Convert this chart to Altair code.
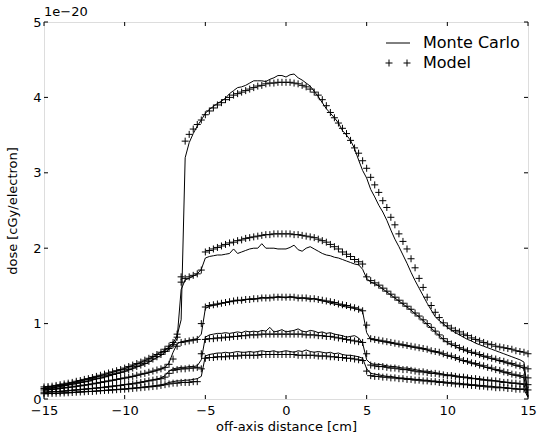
import altair as alt
import pandas as pd

# sampling grid of the profiles, 0.25 cm
X = [i / 4 for i in range(-60, 61)]
X_TICKS = [-15, -10, -5, 0, 5, 10, 15]
Y_TICKS = [0, 1, 2, 3, 4, 5]

# ---- Model (values in units of 1e-20 cGy/electron), one row per cm ----
A_MODEL = [0.16, 0.165, 0.17, 0.18, 0.19, 0.20, 0.21, 0.22, 0.235, 0.245, 0.26, 0.27,
           0.285, 0.30, 0.315, 0.33, 0.345, 0.36, 0.375, 0.39, 0.41, 0.43, 0.45, 0.47,
           0.49, 0.515, 0.54, 0.565, 0.59, 0.62, 0.66, 0.70, 0.75, 0.86, 1.62, 3.42,
           3.51, 3.58, 3.64, 3.70, 3.77, 3.82, 3.86, 3.90, 3.93, 3.97, 4.00, 4.03,
           4.05, 4.07, 4.09, 4.11, 4.13, 4.15, 4.16, 4.18, 4.19, 4.19, 4.20, 4.20,
           4.20, 4.20, 4.19, 4.18, 4.16, 4.14, 4.11, 4.07, 4.03, 3.97, 3.89, 3.80,
           3.73, 3.66, 3.59, 3.52, 3.43, 3.33, 3.26, 3.16, 3.06, 2.94, 2.84, 2.74,
           2.63, 2.54, 2.41, 2.31, 2.19, 2.09, 1.99, 1.86, 1.74, 1.60, 1.48, 1.35,
           1.24, 1.15, 1.08, 1.01, 0.97, 0.94, 0.91, 0.89, 0.86, 0.84, 0.81, 0.79,
           0.77, 0.75, 0.73, 0.72, 0.70, 0.69, 0.68, 0.67, 0.66, 0.64, 0.63, 0.62,
           0.60]
B_MODEL = [0.14, 0.145, 0.15, 0.16, 0.17, 0.18, 0.19, 0.20, 0.21, 0.22, 0.23, 0.24,
           0.26, 0.27, 0.28, 0.295, 0.31, 0.325, 0.34, 0.355, 0.37, 0.39, 0.41, 0.43,
           0.45, 0.47, 0.50, 0.53, 0.56, 0.59, 0.63, 0.67, 0.72, 0.82, 1.55, 1.60,
           1.62, 1.64, 1.66, 1.71, 1.95, 1.97, 1.99, 2.01, 2.03, 2.05, 2.07, 2.08,
           2.10, 2.11, 2.13, 2.14, 2.15, 2.16, 2.17, 2.18, 2.18, 2.19, 2.19, 2.19,
           2.19, 2.19, 2.18, 2.18, 2.17, 2.16, 2.15, 2.14, 2.12, 2.10, 2.08, 2.05,
           2.02, 1.99, 1.95, 1.92, 1.89, 1.85, 1.82, 1.79, 1.62, 1.57, 1.54, 1.51,
           1.47, 1.43, 1.39, 1.35, 1.31, 1.27, 1.23, 1.19, 1.14, 1.10, 1.05, 1.00,
           0.95, 0.90, 0.85, 0.80, 0.76, 0.73, 0.71, 0.68, 0.66, 0.64, 0.62, 0.61,
           0.59, 0.57, 0.56, 0.54, 0.53, 0.51, 0.50, 0.48, 0.47, 0.45, 0.44, 0.42,
           0.40]
C_MODEL = [0.12, 0.125, 0.13, 0.135, 0.14, 0.15, 0.155, 0.16, 0.17, 0.175, 0.185, 0.19,
           0.20, 0.21, 0.22, 0.23, 0.24, 0.25, 0.26, 0.27, 0.28, 0.29, 0.30, 0.315,
           0.33, 0.34, 0.355, 0.37, 0.385, 0.40, 0.42, 0.46, 0.53, 0.70, 0.75, 0.76,
           0.77, 0.78, 0.79, 1.00, 1.22, 1.24, 1.25, 1.26, 1.27, 1.28, 1.29, 1.30,
           1.31, 1.31, 1.32, 1.32, 1.33, 1.33, 1.34, 1.34, 1.34, 1.35, 1.35, 1.35,
           1.35, 1.35, 1.35, 1.34, 1.34, 1.34, 1.33, 1.33, 1.32, 1.31, 1.30, 1.29,
           1.28, 1.26, 1.25, 1.24, 1.22, 1.21, 1.19, 1.17, 0.98, 0.80, 0.79, 0.78,
           0.77, 0.76, 0.75, 0.74, 0.73, 0.72, 0.71, 0.70, 0.69, 0.68, 0.67, 0.66,
           0.64, 0.63, 0.62, 0.60, 0.58, 0.57, 0.55, 0.53, 0.51, 0.50, 0.48, 0.47,
           0.45, 0.44, 0.42, 0.41, 0.39, 0.38, 0.36, 0.35, 0.33, 0.32, 0.31, 0.29,
           0.28]
D_MODEL = [0.09, 0.093, 0.096, 0.10, 0.10, 0.105, 0.11, 0.115, 0.12, 0.125, 0.13, 0.135,
           0.14, 0.145, 0.15, 0.155, 0.16, 0.17, 0.175, 0.18, 0.19, 0.195, 0.20, 0.21,
           0.22, 0.23, 0.24, 0.25, 0.26, 0.27, 0.29, 0.34, 0.38, 0.39, 0.40, 0.40,
           0.41, 0.41, 0.42, 0.60, 0.79, 0.80, 0.80, 0.81, 0.81, 0.82, 0.82, 0.83,
           0.83, 0.84, 0.84, 0.85, 0.85, 0.85, 0.86, 0.86, 0.86, 0.86, 0.86, 0.86,
           0.86, 0.86, 0.86, 0.86, 0.86, 0.85, 0.85, 0.85, 0.84, 0.84, 0.83, 0.83,
           0.82, 0.81, 0.80, 0.79, 0.78, 0.77, 0.76, 0.75, 0.60, 0.45, 0.44, 0.43,
           0.43, 0.42, 0.41, 0.41, 0.40, 0.39, 0.39, 0.38, 0.37, 0.36, 0.36, 0.35,
           0.34, 0.34, 0.33, 0.32, 0.31, 0.31, 0.30, 0.29, 0.29, 0.28, 0.27, 0.27,
           0.26, 0.25, 0.25, 0.24, 0.24, 0.23, 0.22, 0.22, 0.21, 0.21, 0.20, 0.20,
           0.19]
E_MODEL = [0.07, 0.072, 0.074, 0.076, 0.078, 0.08, 0.083, 0.086, 0.09, 0.093, 0.096, 0.10,
           0.10, 0.105, 0.11, 0.113, 0.116, 0.12, 0.124, 0.128, 0.13, 0.135, 0.14, 0.145,
           0.15, 0.155, 0.16, 0.165, 0.17, 0.18, 0.19, 0.20, 0.21, 0.21, 0.22, 0.22,
           0.22, 0.23, 0.23, 0.40, 0.54, 0.55, 0.55, 0.56, 0.56, 0.56, 0.57, 0.57,
           0.57, 0.58, 0.58, 0.58, 0.58, 0.58, 0.59, 0.59, 0.59, 0.59, 0.59, 0.59,
           0.59, 0.59, 0.59, 0.58, 0.58, 0.58, 0.58, 0.58, 0.57, 0.57, 0.57, 0.56,
           0.56, 0.55, 0.55, 0.54, 0.54, 0.53, 0.52, 0.51, 0.37, 0.31, 0.30, 0.30,
           0.29, 0.29, 0.28, 0.28, 0.27, 0.27, 0.26, 0.26, 0.25, 0.25, 0.24, 0.24,
           0.23, 0.23, 0.22, 0.22, 0.21, 0.21, 0.20, 0.20, 0.19, 0.19, 0.18, 0.18,
           0.17, 0.17, 0.16, 0.16, 0.15, 0.15, 0.15, 0.14, 0.14, 0.13, 0.13, 0.13,
           0.12]

# ---- Monte Carlo ----
A_MC = [0.15, 0.16, 0.17, 0.175, 0.185, 0.195, 0.205, 0.215, 0.23, 0.24, 0.255, 0.265,
        0.28, 0.295, 0.31, 0.325, 0.34, 0.355, 0.37, 0.39, 0.405, 0.425, 0.445, 0.465,
        0.485, 0.51, 0.535, 0.56, 0.59, 0.62, 0.65, 0.69, 0.74, 0.84, 1.05, 3.20,
        3.40, 3.52, 3.62, 3.70, 3.79, 3.84, 3.88, 3.92, 3.95, 3.99, 4.05, 4.09,
        4.13, 4.14, 4.16, 4.19, 4.22, 4.22, 4.22, 4.21, 4.24, 4.26, 4.29, 4.29,
        4.27, 4.30, 4.31, 4.26, 4.23, 4.19, 4.15, 4.08, 4.01, 3.93, 3.85, 3.79,
        3.73, 3.66, 3.56, 3.50, 3.43, 3.32, 3.17, 3.03, 2.93, 2.78, 2.68, 2.57,
        2.48, 2.37, 2.24, 2.12, 2.02, 1.91, 1.80, 1.68, 1.57, 1.47, 1.37, 1.27,
        1.18, 1.09, 1.04, 1.00, 0.95, 0.91, 0.88, 0.85, 0.82, 0.79, 0.77, 0.74,
        0.72, 0.70, 0.68, 0.66, 0.64, 0.62, 0.60, 0.58, 0.56, 0.54, 0.52, 0.49,
        0.05]
B_MC = [0.135, 0.14, 0.145, 0.155, 0.165, 0.175, 0.185, 0.195, 0.205, 0.215, 0.225, 0.235,
        0.25, 0.265, 0.275, 0.29, 0.305, 0.32, 0.335, 0.35, 0.365, 0.385, 0.405, 0.425,
        0.445, 0.465, 0.49, 0.52, 0.55, 0.58, 0.62, 0.66, 0.71, 0.80, 1.45, 1.58,
        1.60, 1.63, 1.66, 1.72, 1.87, 1.89, 1.90, 1.91, 1.91, 1.92, 1.93, 1.99,
        1.93, 1.95, 1.97, 1.99, 2.00, 2.00, 2.06, 2.00, 2.00, 2.00, 1.99, 1.99,
        1.99, 2.01, 2.04, 1.98, 1.96, 2.00, 2.02, 1.99, 1.96, 1.93, 1.91, 1.90,
        1.88, 1.87, 1.85, 1.83, 1.81, 1.79, 1.78, 1.72, 1.60, 1.55, 1.53, 1.50,
        1.46, 1.42, 1.38, 1.34, 1.30, 1.26, 1.22, 1.18, 1.13, 1.09, 1.04, 0.99,
        0.94, 0.89, 0.84, 0.79, 0.75, 0.72, 0.70, 0.67, 0.65, 0.63, 0.61, 0.60,
        0.58, 0.56, 0.55, 0.53, 0.52, 0.50, 0.49, 0.47, 0.46, 0.44, 0.43, 0.40,
        0.04]
C_MC = [0.115, 0.12, 0.125, 0.13, 0.14, 0.145, 0.15, 0.16, 0.165, 0.175, 0.18, 0.19,
        0.20, 0.21, 0.215, 0.225, 0.235, 0.245, 0.255, 0.265, 0.275, 0.285, 0.30, 0.31,
        0.325, 0.335, 0.35, 0.365, 0.38, 0.395, 0.42, 0.48, 0.62, 0.73, 0.76, 0.77,
        0.78, 0.79, 0.80, 0.86, 1.20, 1.23, 1.24, 1.25, 1.27, 1.28, 1.29, 1.30,
        1.31, 1.30, 1.32, 1.33, 1.32, 1.33, 1.35, 1.34, 1.35, 1.34, 1.36, 1.35,
        1.34, 1.36, 1.35, 1.33, 1.34, 1.33, 1.32, 1.33, 1.31, 1.30, 1.29, 1.27,
        1.26, 1.25, 1.23, 1.22, 1.21, 1.20, 1.19, 1.16, 0.88, 0.79, 0.78, 0.77,
        0.76, 0.75, 0.74, 0.73, 0.72, 0.71, 0.70, 0.69, 0.68, 0.67, 0.66, 0.65,
        0.63, 0.62, 0.61, 0.59, 0.57, 0.56, 0.54, 0.52, 0.50, 0.49, 0.47, 0.46,
        0.44, 0.43, 0.41, 0.40, 0.38, 0.37, 0.35, 0.34, 0.32, 0.31, 0.30, 0.28,
        0.03]
D_MC = [0.09, 0.093, 0.096, 0.10, 0.10, 0.105, 0.11, 0.115, 0.12, 0.125, 0.13, 0.135,
        0.14, 0.145, 0.15, 0.16, 0.165, 0.17, 0.175, 0.185, 0.19, 0.20, 0.205, 0.215,
        0.225, 0.235, 0.245, 0.255, 0.265, 0.28, 0.31, 0.37, 0.40, 0.41, 0.42, 0.42,
        0.43, 0.43, 0.44, 0.52, 0.82, 0.85, 0.86, 0.87, 0.87, 0.88, 0.87, 0.88,
        0.89, 0.88, 0.90, 0.89, 0.90, 0.89, 0.91, 0.90, 0.95, 0.89, 0.90, 0.92,
        0.89, 0.90, 0.91, 0.93, 0.90, 0.89, 0.91, 0.90, 0.88, 0.89, 0.87, 0.88,
        0.86, 0.85, 0.84, 0.82, 0.83, 0.84, 0.81, 0.74, 0.52, 0.47, 0.46, 0.46,
        0.45, 0.44, 0.43, 0.43, 0.42, 0.41, 0.41, 0.40, 0.39, 0.38, 0.37, 0.37,
        0.36, 0.35, 0.34, 0.33, 0.32, 0.32, 0.31, 0.30, 0.29, 0.29, 0.28, 0.27,
        0.27, 0.26, 0.25, 0.25, 0.24, 0.23, 0.23, 0.22, 0.21, 0.21, 0.20, 0.19,
        0.03]
E_MC = [0.07, 0.072, 0.074, 0.076, 0.078, 0.08, 0.083, 0.086, 0.09, 0.093, 0.096, 0.10,
        0.10, 0.105, 0.11, 0.114, 0.118, 0.122, 0.126, 0.13, 0.134, 0.14, 0.145, 0.15,
        0.156, 0.162, 0.168, 0.175, 0.18, 0.19, 0.20, 0.22, 0.23, 0.24, 0.24, 0.25,
        0.25, 0.26, 0.27, 0.30, 0.57, 0.59, 0.60, 0.61, 0.61, 0.62, 0.61, 0.62,
        0.63, 0.62, 0.62, 0.63, 0.62, 0.63, 0.64, 0.63, 0.63, 0.64, 0.62, 0.63,
        0.64, 0.63, 0.62, 0.64, 0.63, 0.65, 0.63, 0.62, 0.63, 0.62, 0.61, 0.62,
        0.60, 0.61, 0.59, 0.58, 0.58, 0.57, 0.56, 0.54, 0.40, 0.34, 0.33, 0.32,
        0.31, 0.30, 0.30, 0.29, 0.28, 0.28, 0.27, 0.27, 0.26, 0.26, 0.25, 0.25,
        0.24, 0.24, 0.23, 0.23, 0.22, 0.22, 0.21, 0.21, 0.20, 0.20, 0.19, 0.19,
        0.18, 0.18, 0.17, 0.17, 0.16, 0.16, 0.15, 0.15, 0.14, 0.14, 0.13, 0.13,
        0.02]

MODEL = {"A": A_MODEL, "B": B_MODEL, "C": C_MODEL, "D": D_MODEL, "E": E_MODEL}
MC = {"A": A_MC, "B": B_MC, "C": C_MC, "D": D_MC, "E": E_MC}
for _d in (MODEL, MC):
    for _k, _v in _d.items():
        assert len(_v) == len(X), (_k, len(_v))


def to_long(kind, series):
    rows = []
    for name, vals in series.items():
        for x, y in zip(X, vals):
            rows.append({"x": x, "y": y, "curve": name, "kind": kind})
    return pd.DataFrame(rows)


mc_df = to_long("Monte Carlo", MC)
model_df = to_long("Model", MODEL)
all_df = pd.concat([mc_df, model_df], ignore_index=True)
xt_df = pd.DataFrame({"x": X_TICKS})
yt_df = pd.DataFrame({"y": Y_TICKS})

W, H = 484, 377
TICK = 4
FONT = "DejaVu Sans"
xs = alt.Scale(domain=[-15, 15], nice=False, zero=False)
ys = alt.Scale(domain=[0, 5], nice=False, zero=False)

common_axis = dict(grid=False, domain=False, labelFlush=False, labelOverlap=False,
                   ticks=False, tickSize=0, labelFont=FONT, labelFontSize=13,
                   labelColor="black", titleFont=FONT, titleFontSize=13,
                   titleFontWeight="normal", titleColor="black")
X_AXIS = alt.Axis(orient="bottom", values=X_TICKS, labelPadding=5,
                  title="off-axis distance [cm]", titleY=21, titleBaseline="top",
                  **common_axis)
Y_AXIS = alt.Axis(orient="left", values=Y_TICKS, labelPadding=3,
                  title="dose [cGy/electron]", titleX=-25, titleY=H / 2,
                  titleBaseline="bottom", **common_axis)


def xenc():
    return alt.X("x:Q", scale=xs, axis=X_AXIS)


def yenc():
    return alt.Y("y:Q", scale=ys, axis=Y_AXIS)


lines = alt.Chart(mc_df).mark_line(color="black", strokeWidth=1).encode(
    x=xenc(), y=yenc(), detail="curve:N")

PLUS = "M-1,0H1M0,-1V1"
points = alt.Chart(model_df).mark_point(
    shape=PLUS, filled=False, size=49, color="black", strokeWidth=1, opacity=1
).encode(x=xenc(), y=yenc(), detail="curve:N")

LEG_LINE = "M-2.4,0H2.4"
LEG_PLUS = "M-2.5,0H-1.1M-1.8,-0.7V0.7M1.1,0H2.5M1.8,-0.7V0.7"
legend_layer = alt.Chart(all_df).mark_point(
    filled=False, color="black", opacity=0, strokeWidth=1
).encode(
    x=xenc(), y=yenc(),
    shape=alt.Shape("kind:N", scale=alt.Scale(domain=["Monte Carlo", "Model"],
                                               range=[LEG_LINE, LEG_PLUS]),
                    legend=alt.Legend(orient="none", legendX=346, legendY=13, title=None,
                                      labelFont=FONT, labelFontSize=16, labelColor="black",
                                      symbolSize=100, symbolStrokeWidth=1,
                                      symbolStrokeColor="black", symbolOpacity=1,
                                      symbolFillColor="transparent",
                                      labelOffset=17, rowPadding=4, padding=0)),
)

# inward-pointing ticks on all four sides, at the axis tick values
tick_rule = dict(color="black", strokeWidth=1)
xt_bottom = alt.Chart(xt_df).mark_rule(**tick_rule).encode(
    x=xenc(), y=alt.value(H), y2=alt.value(H - TICK))
xt_top = alt.Chart(xt_df).mark_rule(**tick_rule).encode(
    x=xenc(), y=alt.value(0), y2=alt.value(TICK))
yt_left = alt.Chart(yt_df).mark_rule(**tick_rule).encode(
    y=yenc(), x=alt.value(0), x2=alt.value(TICK))
yt_right = alt.Chart(yt_df).mark_rule(**tick_rule).encode(
    y=yenc(), x=alt.value(W - TICK), x2=alt.value(W))

chart = alt.layer(
    lines, points, legend_layer, xt_bottom, xt_top, yt_left, yt_right
).properties(
    width=W, height=H,
    autosize=alt.AutoSizeParams(type="none"),
    padding={"left": 44, "top": 22, "right": 14, "bottom": 35},
    title=alt.TitleParams(text="1e\u221220", anchor="start", frame="group", fontSize=13,
                          font=FONT, fontWeight="normal", color="black", offset=2, dy=5),
).configure_view(stroke="black", strokeWidth=1).configure(background="white")

chart.save("out.html", embed_options={"renderer": "svg", "actions": False})
